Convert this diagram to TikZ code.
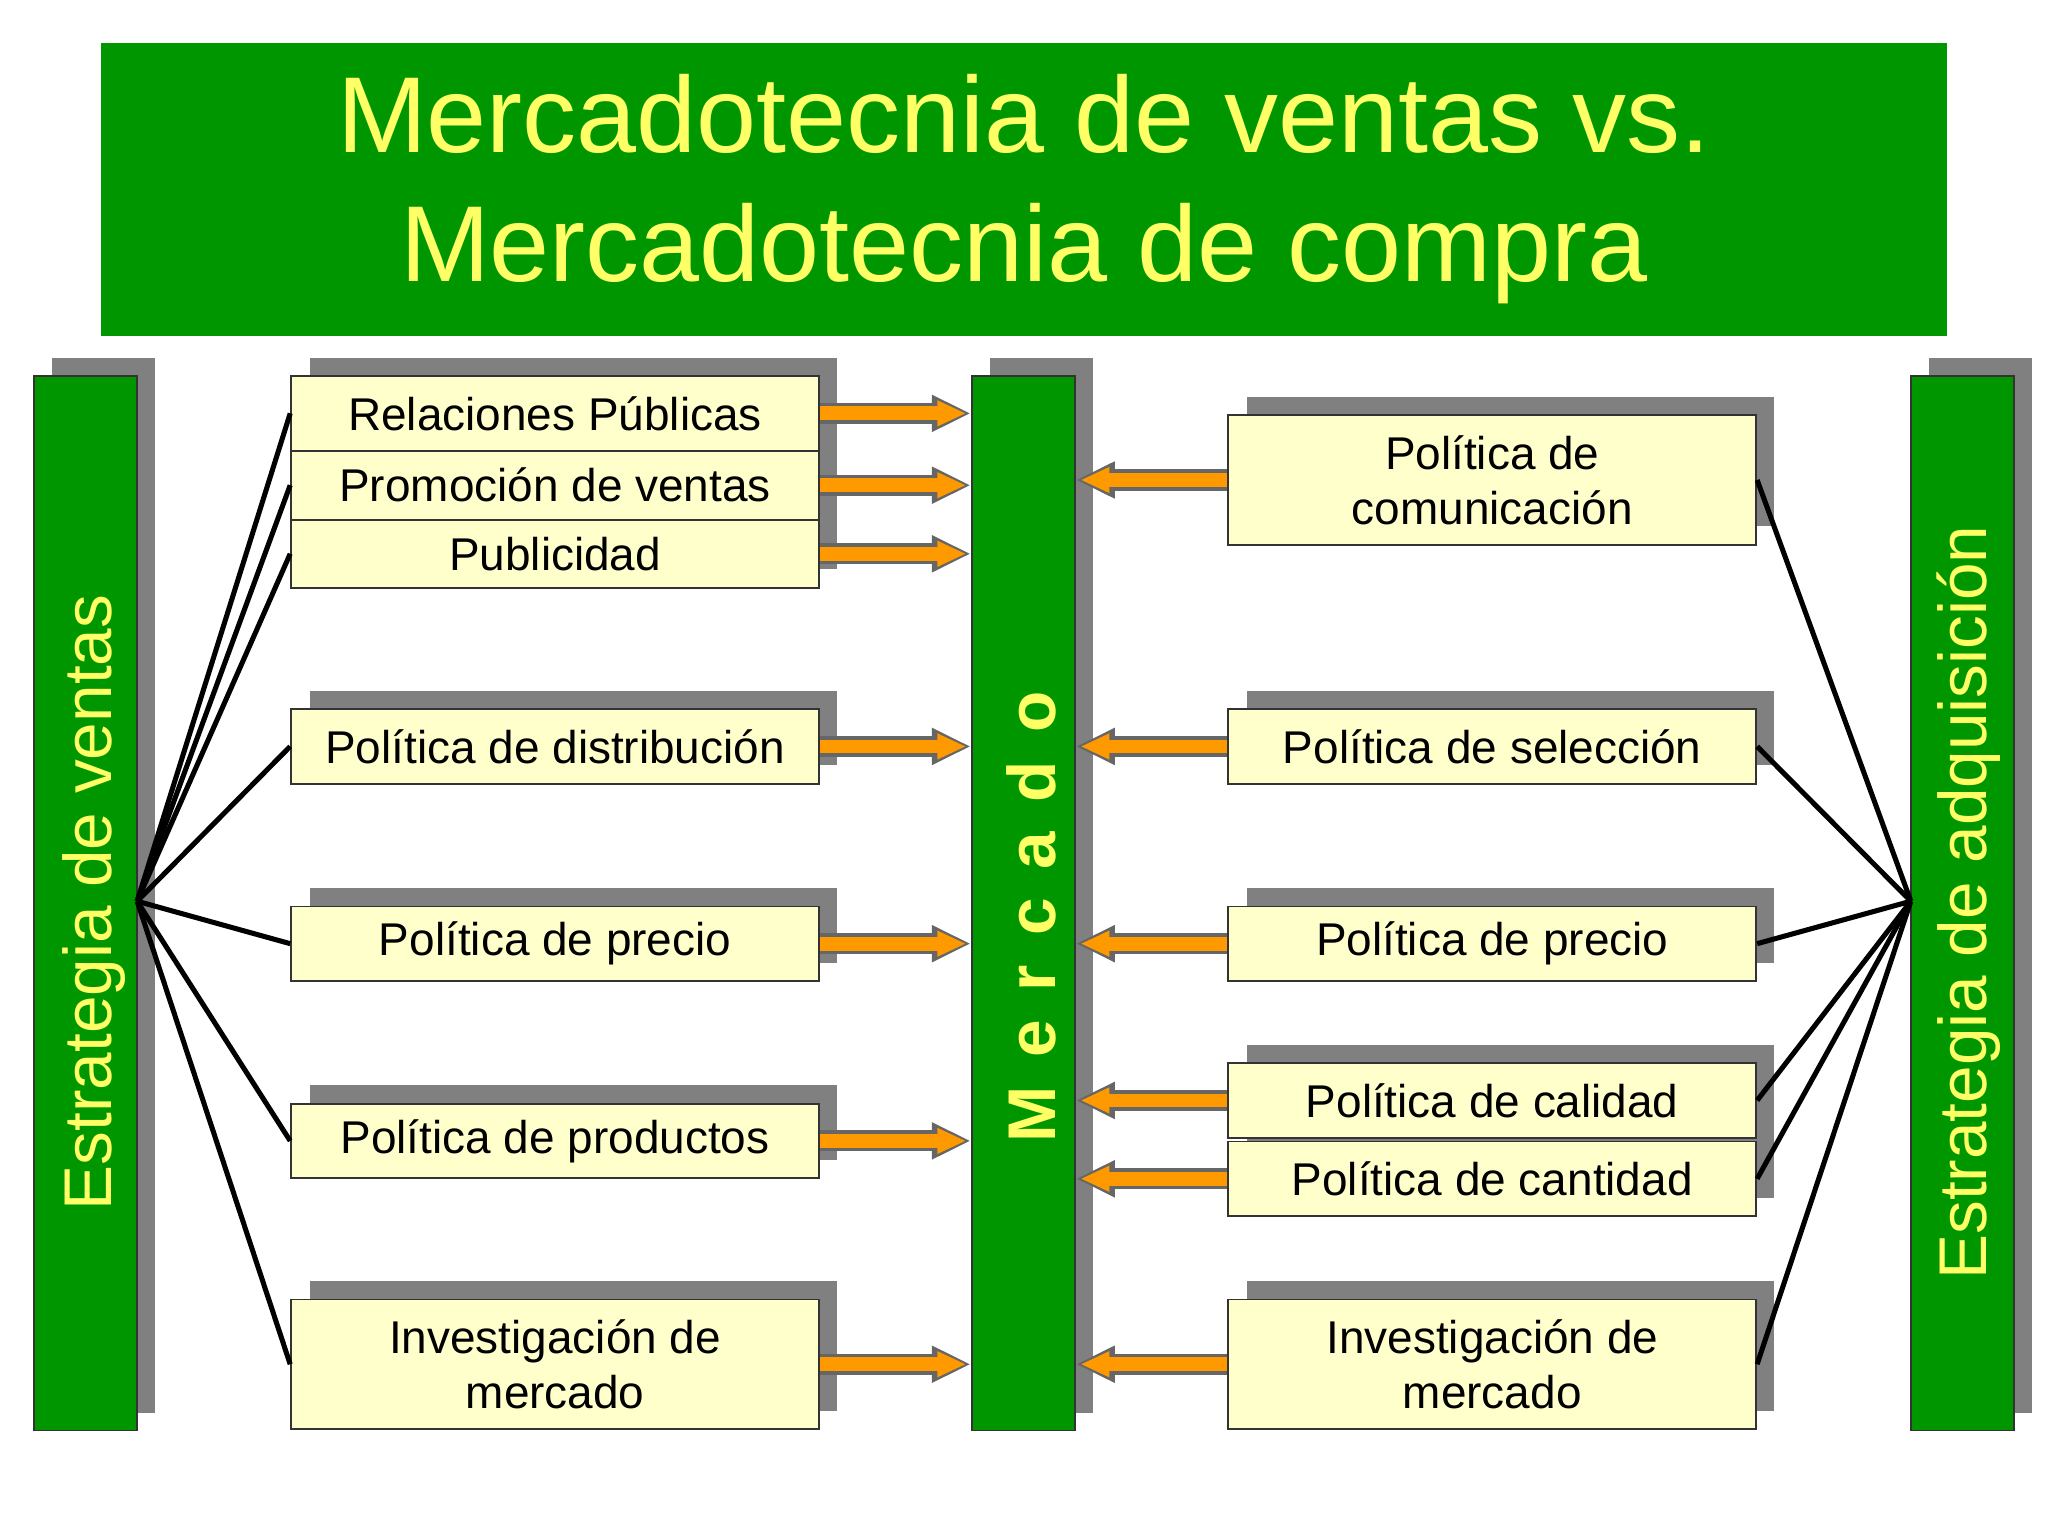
\documentclass[tikz,border=0pt]{standalone}
\usepackage{fontspec}
\setmainfont{Liberation Sans}
\usetikzlibrary{arrows.meta}
\definecolor{gr}{RGB}{0,150,0}
\definecolor{yl}{RGB}{255,255,102}
\definecolor{bx}{RGB}{255,255,204}
\definecolor{sh}{RGB}{128,128,128}
\definecolor{orng}{RGB}{255,153,0}
\tikzset{
 bar/.style={draw=black!80,fill=gr,minimum width=0.79cm,minimum height=8.07cm,inner sep=0},
 lbox/.style={draw=black!80,fill=bx,minimum width=4.04cm,inner sep=0,font=\fontsize{10pt}{12pt}\selectfont,align=center},
 conn/.style={line width=1.1pt},
 shad/.style={fill=sh},
}
\newcommand\oarr[2]{\draw[line width=4.6pt,draw=black!60,-{Triangle[length=8.5pt,width=7.5pt]}] (#1) -- (#2);
 \draw[line width=3pt,orng,-{Triangle[length=6.3pt,width=5.2pt]},shorten >=1pt] (#1) -- (#2);}
\begin{document}
\begin{tikzpicture}[x=0.01cm,y=-0.01cm]
\useasboundingbox (0,0) rectangle (1568,1176);
% title
\node[fill=gr,minimum width=14.12cm,minimum height=2.24cm,align=center,text=yl,font=\fontsize{23.5pt}{28pt}\selectfont] (title) at (784,145) {Mercadotecnia de ventas vs.\\ Mercadotecnia de compra};
% shadows
\fill[shad] (40,274) rectangle (119,1082);
\fill[shad] (758,274) rectangle (837,1082);
\fill[shad] (1477,274) rectangle (1556,1082);
\fill[shad] (237,274) rectangle (641,436);
\fill[shad] (237,529) rectangle (641,586);
\fill[shad] (237,680) rectangle (641,737);
\fill[shad] (237,831) rectangle (641,888);
\fill[shad] (237,981) rectangle (641,1080);
\fill[shad] (955,304) rectangle (1358,403);
\fill[shad] (955,529) rectangle (1358,586);
\fill[shad] (955,680) rectangle (1358,737);
\fill[shad] (955,800) rectangle (1358,917);
\fill[shad] (955,981) rectangle (1358,1080);
% bars
\node[bar] (lbar) at (65.5,691.5) {};
\node[bar] (merc) at (783.5,691.5) {};
\node[bar] (rbar) at (1502.5,691.5) {};
\node[rotate=90,text=yl,font=\fontsize{14.7pt}{17pt}\selectfont] (ltxt) at (72,691) {Estrategia de ventas};
\node[rotate=90,text=yl,font=\fontsize{14.7pt}{17pt}\selectfont] (rtxt) at (1507,691) {Estrategia de adquisición};
\node[rotate=90,text=yl,font=\fontsize{14.7pt}{17pt}\selectfont\bfseries] (mtxt) at (790,702) {M\hspace{0.43em}e\hspace{0.43em}r\hspace{0.43em}c\hspace{0.43em}a\hspace{0.43em}d\hspace{0.43em}o};
% left boxes
\node[lbox,minimum height=0.57cm] (lrp) at (425,316.5) {Relaciones Públicas};
\node[lbox,minimum height=0.53cm] (lpv) at (425,371.5) {Promoción de ventas};
\node[lbox,minimum height=0.52cm] (lpub) at (425,424) {Publicidad};
\node[lbox,minimum height=0.57cm] (ldis) at (425,571.5) {Política de distribución};
\node[lbox,minimum height=0.57cm] (lpre) at (425,722.5) {Política de precio};
\node[lbox,minimum height=0.57cm] (lpro) at (425,873.5) {Política de productos};
\node[lbox,minimum height=0.99cm] (linv) at (425,1044.5) {Investigación de\\mercado};
% right boxes
\node[lbox,minimum height=0.99cm] (rcom) at (1142.5,367.5) {Política de\\comunicación};
\node[lbox,minimum height=0.57cm] (rsel) at (1142.5,571.5) {Política de selección};
\node[lbox,minimum height=0.57cm] (rpre) at (1142.5,722.5) {Política de precio};
\node[lbox,minimum height=0.57cm] (rcal) at (1142.5,842.5) {Política de calidad};
\node[lbox,minimum height=0.57cm] (rcan) at (1142.5,902.5) {Política de cantidad};
\node[lbox,minimum height=0.99cm] (rinv) at (1142.5,1044.5) {Investigación de\\mercado};
% connectors
\coordinate (lh) at (105,690);
\coordinate (rh) at (1463,690);
\foreach \b in {lrp,lpv,lpub,ldis,lpre,lpro,linv} \draw[conn] (lh) -- (\b.west);
\foreach \b in {rcom,rsel,rpre,rcal,rcan,rinv} \draw[conn] (rh) -- (\b.east);
% arrows
\foreach \b in {lrp,lpv,lpub,ldis,lpre,lpro,linv} {\oarr{\b.east}{merc.west |- \b.east}}
\foreach \b in {rcom,rsel,rpre,rcal,rcan,rinv} {\oarr{\b.west}{merc.east |- \b.west}}
\end{tikzpicture}
\end{document}
